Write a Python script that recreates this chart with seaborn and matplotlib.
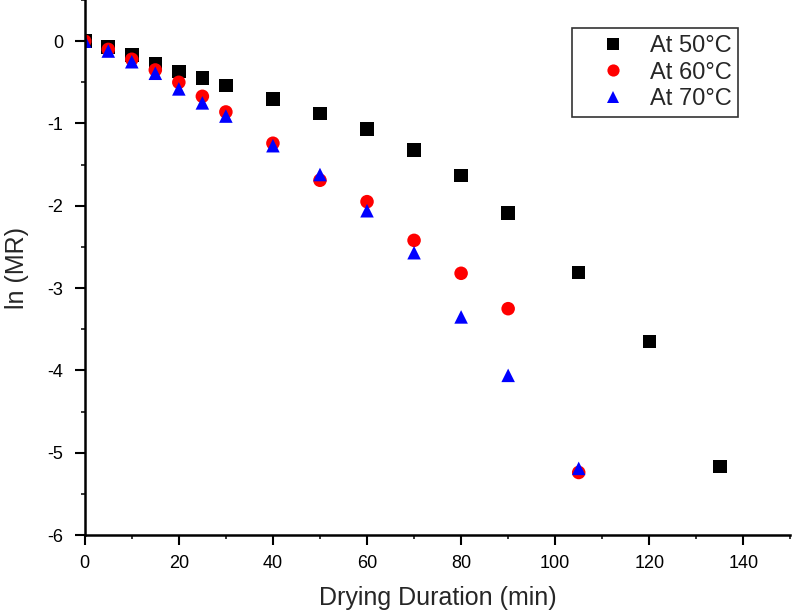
import numpy as np
import pandas as pd
import matplotlib
matplotlib.use("Agg")
import matplotlib.pyplot as plt
from matplotlib.ticker import MultipleLocator
import seaborn as sns

# drying time (min) and ln(MR)
time_50 = [0, 5, 10, 15, 20, 25, 30, 40, 50, 60, 70, 80, 90, 105, 120, 135]
ln_mr_50 = [0.0, -0.07, -0.17, -0.27, -0.37, -0.45, -0.54, -0.70, -0.88, -1.07,
            -1.32, -1.63, -2.09, -2.81, -3.65, -5.17]

time_60 = [0, 5, 10, 15, 20, 25, 30, 40, 50, 60, 70, 80, 90, 105]
ln_mr_60 = [0.0, -0.10, -0.22, -0.35, -0.50, -0.67, -0.86, -1.24, -1.69, -1.95,
            -2.42, -2.82, -3.25, -5.24]

time_70 = [0, 5, 10, 15, 20, 25, 30, 40, 50, 60, 70, 80, 90, 105]
ln_mr_70 = [0.0, -0.12, -0.25, -0.39, -0.58, -0.75, -0.91, -1.27, -1.62, -2.06,
            -2.57, -3.35, -4.06, -5.19]

labels = ["At 50\u00b0C", "At 60\u00b0C", "At 70\u00b0C"]
colors = ["#000000", "#ff0000", "#0000ff"]
markers = ["s", "o", "^"]

frames = []
for label, t, v in zip(labels, [time_50, time_60, time_70], [ln_mr_50, ln_mr_60, ln_mr_70]):
    frames.append(pd.DataFrame({"time": t, "ln_mr": v, "series": label}))
data = pd.concat(frames, ignore_index=True)

sns.set_style("ticks")
plt.rcParams['font.family'] = ['Liberation Sans', 'DejaVu Sans']

fig = plt.figure(figsize=(7.92, 6.15), dpi=100)
ax = fig.add_axes([0.107, 0.130, 0.891, 0.870])

sns.scatterplot(
    data=data,
    x="time",
    y="ln_mr",
    hue="series",
    style="series",
    palette=dict(zip(labels, colors)),
    markers=dict(zip(labels, markers)),
    hue_order=labels,
    style_order=labels,
    s=95,
    linewidth=0,
    ax=ax,
)

ax.set_xlim(0, 150)
ax.set_ylim(-6, 0.5)
ax.xaxis.set_major_locator(MultipleLocator(20))
ax.xaxis.set_minor_locator(MultipleLocator(10))
ax.yaxis.set_major_locator(MultipleLocator(1))
ax.yaxis.set_minor_locator(MultipleLocator(0.5))
ax.yaxis.set_major_formatter(plt.FuncFormatter(lambda v, p: f"{int(v)}"))

for side in ["top", "right"]:
    ax.spines[side].set_visible(False)
for side in ["left", "bottom"]:
    ax.spines[side].set_linewidth(1.8)
    ax.spines[side].set_color("black")

ax.tick_params(which="major", length=7.5, width=1.5, labelsize=13, colors="black")
ax.tick_params(which="minor", length=3, width=1.3)
ax.tick_params(axis="y", which="major", pad=8)
ax.tick_params(axis="x", which="major", pad=7)

ax.set_xlabel("Drying Duration (min)", fontsize=18, labelpad=10)
ax.set_ylabel("ln (MR)", fontsize=18, labelpad=13)

leg = ax.legend(
    loc="upper left",
    bbox_to_anchor=(0.690, 0.948),
    borderaxespad=0,
    fontsize=17,
    frameon=True,
    fancybox=False,
    edgecolor="black",
    labelspacing=0.2,
    handlelength=2.9,
    handletextpad=0.1,
    borderpad=0.3,
    markerscale=0.9,
)
leg.get_frame().set_linewidth(1.2)

fig.savefig("out.png", dpi=100)
plt.close(fig)
